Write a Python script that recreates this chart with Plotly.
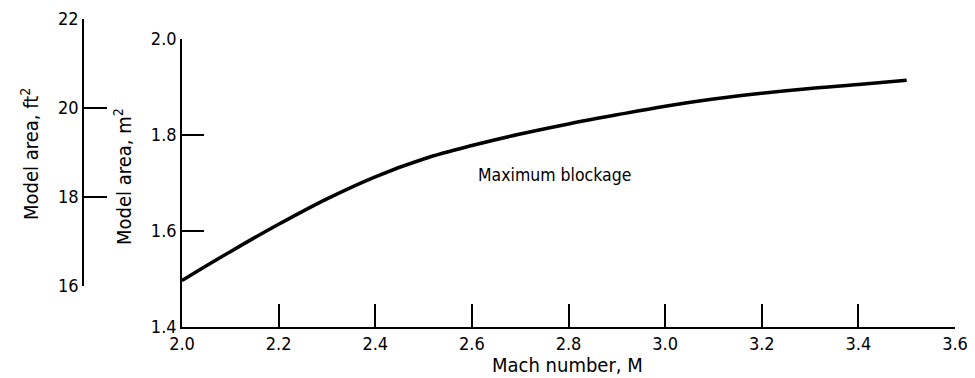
import plotly.graph_objects as go

mach = [2.0, 2.1, 2.2, 2.3, 2.4, 2.5, 2.6, 2.7, 2.8, 2.9, 3.0, 3.1, 3.2, 3.3, 3.4, 3.5]
area_m2 = [1.497, 1.557, 1.614, 1.667, 1.713, 1.750, 1.778, 1.802, 1.823, 1.842, 1.860, 1.875,
           1.887, 1.897, 1.905, 1.914]

x_ticks = [2.0, 2.2, 2.4, 2.6, 2.8, 3.0, 3.2, 3.4, 3.6]
x_ticklabels = ["2.0", "2.2", "2.4", "2.6", "2.8", "3.0", "3.2", "3.4", "3.6"]
m2_ticks = [1.4, 1.6, 1.8, 2.0]
m2_ticklabels = ["1.4", "1.6", "1.8", "2.0"]
ft2_ticks = [16, 18, 20, 22]
ft2_ticklabels = ["16", "18", "20", "22"]

FONT = "DejaVu Sans Condensed, Liberation Sans Narrow, sans-serif"
OFF = 8  # page body margin
W, H = 975 - OFF, 378 - OFF
L = 83 - OFF
T = 19 - OFF
PR = 955 - OFF
PB = 327 - OFF
R = W - PR
B = H - PB
pw = W - L - R
ph = H - T - B

def px(x):
    return (x - OFF - L) / pw

def py(y):
    return (PB - (y - OFF)) / ph

fig = go.Figure()
fig.add_trace(go.Scatter(x=mach, y=area_m2, mode="lines",
                         line=dict(color="black", width=3.5, shape="spline", smoothing=1.0),
                         showlegend=False, hoverinfo="skip"))
# empty trace so the ft^2 axis is drawn
fig.add_trace(go.Scatter(x=[], y=[], xaxis="x", yaxis="y2", mode="lines",
                         showlegend=False, hoverinfo="skip"))

axis_common = dict(showgrid=False, zeroline=False, showline=True, linecolor="black",
                   linewidth=1.6, ticks="inside", tickcolor="black", tickwidth=1.6,
                   tickfont=dict(family=FONT, size=18, color="black"))

fig.update_layout(
    width=W, height=H,
    margin=dict(l=L, r=R, t=T, b=B, autoexpand=False),
    paper_bgcolor="white", plot_bgcolor="rgba(0,0,0,0)",
    showlegend=False,
    xaxis=dict(domain=[px(182), 1], range=[2.0, 3.6], tickvals=x_ticks, ticktext=x_ticklabels,
               ticklen=23, anchor="y", **axis_common),
    yaxis=dict(domain=[0, py(39)], range=[1.4, 2.0], tickvals=m2_ticks, ticktext=m2_ticklabels,
               ticklen=22, anchor="x", **axis_common),
    yaxis2=dict(domain=[py(286), 1], range=[16, 22], tickvals=ft2_ticks, ticktext=ft2_ticklabels,
                ticklen=23, anchor="free", position=0, **axis_common),
)

fig.add_annotation(x=2.772, y=1.717, xref="x", yref="y", text="Maximum blockage",
                   showarrow=False, xanchor="center", yanchor="middle",
                   font=dict(family=FONT, size=17.5, color="black"))
title_font = dict(family=FONT, size=20, color="black")
fig.add_annotation(x=px(567), y=py(365), xref="paper", yref="paper", text="Mach number, M",
                   showarrow=False, xanchor="center", yanchor="middle", font=title_font)
fig.add_annotation(x=px(30), y=py(154), xref="paper", yref="paper", text="Model area, ft<sup>2</sup>",
                   showarrow=False, xanchor="center", yanchor="middle", font=title_font,
                   textangle=-90)
fig.add_annotation(x=px(123), y=py(177), xref="paper", yref="paper", text="Model area, m<sup>2</sup>",
                   showarrow=False, xanchor="center", yanchor="middle", font=title_font,
                   textangle=-90)

fig.write_html("out.html")
